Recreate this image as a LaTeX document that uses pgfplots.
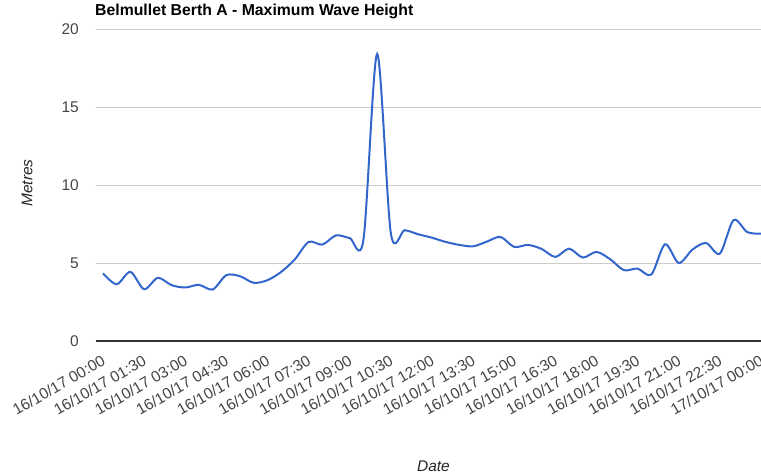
\documentclass[border=0pt]{standalone}
\usepackage{pgfplots}
\pgfplotsset{compat=1.18}
\usepackage{fontspec}
\setmainfont{Liberation Sans}
\definecolor{gblue}{HTML}{3366CC}
\definecolor{ggrid}{HTML}{CCCCCC}
\definecolor{gtext}{HTML}{444444}
\definecolor{gaxis}{HTML}{333333}
\begin{document}
\begin{tikzpicture}
\begin{axis}[
  at={(0,0)}, anchor=south west,
  scale only axis,
  width=665pt, height=312pt,
  xmin=-0.255, xmax=24,
  ymin=0, ymax=20,
  ytick={0,5,10,15,20},
  xtick={0,1.5,3,4.5,6,7.5,9,10.5,12,13.5,15,16.5,18,19.5,21,22.5,24},
  xticklabels={16/10/17 00:00,16/10/17 01:30,16/10/17 03:00,16/10/17 04:30,16/10/17 06:00,16/10/17 07:30,16/10/17 09:00,16/10/17 10:30,16/10/17 12:00,16/10/17 13:30,16/10/17 15:00,16/10/17 16:30,16/10/17 18:00,16/10/17 19:30,16/10/17 21:00,16/10/17 22:30,17/10/17 00:00},
  major tick length=0pt,
  axis line style={draw=none},
  ymajorgrids,
  grid style={ggrid, line width=0.8pt},
  extra y ticks={0},
  extra y tick labels={},
  extra y tick style={grid style={gaxis, line width=1.2pt}},
  /pgf/number format/assume math mode=true,
  tick label style={font=\fontsize{15.5}{18}\selectfont, text=gtext},
  yticklabel style={anchor=east, inner sep=0pt},
  yticklabel shift=17pt,
  xticklabel style={rotate=30, anchor=north east, inner sep=0pt, xshift=-2pt, yshift=1pt},
  xticklabel shift=13pt,
  title={Belmullet Berth A - Maximum Wave Height},
  title style={at={(rel axis cs:0,1)}, anchor=base west, inner sep=0pt, yshift=7.5pt, xshift=-1pt, font=\fontsize{15.8}{18}\selectfont\bfseries},
  xlabel={Date},
  xlabel style={at={(rel axis cs:0.5,0)}, anchor=center, yshift=-125pt, xshift=5pt, font=\fontsize{15.5}{18}\selectfont\itshape, text=black!85},
  ylabel={Metres},
  ylabel style={at={(rel axis cs:0,0.5)}, anchor=center, rotate=0, yshift=69pt, xshift=2pt, font=\fontsize{15.5}{18}\selectfont\itshape, text=black!85},
  clip=true,
]
\addplot[gblue, line width=2pt, smooth, tension=0.5] coordinates {
(0,4.33) (0.5,3.64) (1,4.43) (1.5,3.32) (2,4.05) (2.5,3.58) (3,3.43) (3.5,3.6)
(4,3.30) (4.5,4.22) (5,4.15) (5.5,3.73) (6,3.9) (6.5,4.43) (7,5.24) (7.5,6.35)
(8,6.18) (8.5,6.77) (9,6.6) (9.5,6.5) (10,18.4) (10.5,6.9) (11,7.1) (11.5,6.84)
(12,6.62) (12.5,6.35) (13,6.16) (13.5,6.07) (14,6.37) (14.5,6.67) (15,6.03) (15.5,6.16)
(16,5.9) (16.5,5.39) (17,5.92) (17.5,5.35) (18,5.71) (18.5,5.24) (19,4.54) (19.5,4.64)
(20,4.26) (20.5,6.2) (21,5.0) (21.5,5.86) (22,6.28) (22.5,5.6) (23,7.75) (23.5,6.98)
(24,6.88)
};
\end{axis}
\pgfresetboundingbox
\path (-96pt,-132pt) rectangle (665pt,341pt);
\end{tikzpicture}
\end{document}
